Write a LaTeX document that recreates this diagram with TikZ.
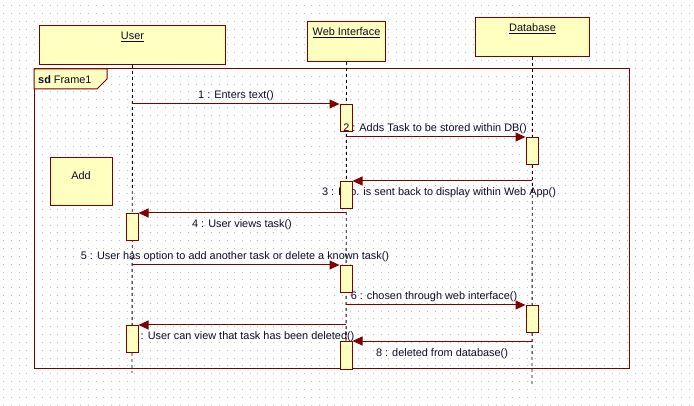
\documentclass[tikz,border=0pt]{standalone}
\usepackage{fontspec}
\setmainfont{Liberation Sans}
\usepackage{tikz}
\usetikzlibrary{arrows.meta}
\definecolor{umlred}{RGB}{128,0,0}
\definecolor{umlfill}{RGB}{255,255,192}
\definecolor{umltext}{RGB}{10,10,40}
\definecolor{griddot}{RGB}{190,190,190}
\begin{document}
\begin{tikzpicture}[
  x=1pt, y=-1pt, font=\fontsize{10.9}{13}\selectfont, text=umltext,
  headbox/.style={draw=umlred, fill=umlfill, line width=1pt, inner sep=0pt, anchor=north west},
  actbox/.style={draw=umlred, fill=umlfill, line width=1pt, inner sep=0pt, minimum width=12pt, minimum height=27pt, anchor=north},
  txt/.style={inner sep=0pt, anchor=base},
  lifeln/.style={black, dash pattern=on 3pt off 3pt, line width=0.9pt},
  msg/.style={umlred, line width=1pt, -{Triangle[length=10pt, width=9pt]}},
  frm/.style={draw=umlred, line width=1pt}
]
\useasboundingbox (0,0) rectangle (694,406);
% background dots
\foreach \i in {0,...,89}
  \foreach \j in {0,...,51}
    \fill[griddot] (3.3+\i*7.7, 5.3+\j*7.83) rectangle ++(1,1);

% lifeline heads
\node[headbox, minimum width=186pt, minimum height=39pt] (user) at (39,25) {};
\node[headbox, minimum width=78pt, minimum height=40pt] (web) at (307,21) {};
\node[headbox, minimum width=114pt, minimum height=39pt] (db) at (475,17) {};
\node[txt] (userT) at ([yshift=-15pt]user.north) {\underline{User}};
\node[txt] (webT) at ([yshift=-15pt]web.north) {\underline{Web Interface}};
\node[txt] (dbT) at ([yshift=-15pt]db.north) {\underline{Database}};

% frame
\draw[frm] (34,69) rectangle (629,368);
\draw[frm, fill=umlfill] (34,69) -- (107,69) -- (107,79) -- (97,89) -- (34,89) -- cycle;
\node[txt, anchor=base west] (tab) at (38,84) {\textbf{sd} Frame1};

% note box
\node[headbox, minimum width=62pt, minimum height=48pt] (add) at (50,157) {};
\node[txt] (addT) at (81,180) {Add};

% lifelines
\coordinate (userEnd) at (132,373);
\coordinate (webEnd) at (346,368);
\coordinate (dbEnd) at (532,387);
\draw[lifeln] (user.south) -- (userEnd);
\draw[lifeln] (web.south) -- (webEnd);
\draw[lifeln] (db.south) -- (dbEnd);

% message labels
\node[txt] (l1) at (236,99) {1 : Enters text()};
\node[txt] (l3) at (439,196) {3 : Info. is sent back to display within Web App()};
\node[txt] (l4) at (242,228) {4 : User views task()};
\node[txt] (l5) at (235,260) {5 : User has option to add another task or delete a known task()};
\node[txt] (l6) at (434,300) {6 : chosen through web interface()};
\node[txt] (l7) at (243,340) {7 : User can view that task has been deleted()};
\node[txt] (l8) at (442,356) {8 : deleted from database()};

% activations
\node[actbox] (wa1) at (346,104) {};
\node[actbox] (db1) at (532,137) {};
\node[actbox] (wa2) at (346,181) {};
\node[actbox] (ua1) at (132,213) {};
\node[actbox] (wa3) at (346,265) {};
\node[actbox] (db2) at (532,305) {};
\node[actbox] (ua2) at (132,325) {};
\node[actbox, minimum height=28pt] (wa4) at (346,341) {};
\node[txt] (l2) at (435,132) {2 : Adds Task to be stored within DB()};

% messages
\coordinate (u1) at (132,104);
\coordinate (w2) at (346,137);
\coordinate (d3) at (532,181);
\coordinate (w4) at (346,213);
\coordinate (u5) at (132,265);
\coordinate (w6) at (346,305);
\coordinate (w7) at (346,325);
\coordinate (d8) at (532,341);
\draw[msg] (u1) -- (wa1.north west);
\draw[msg] (w2) -- (db1.north west);
\draw[msg] (d3) -- (wa2.north east);
\draw[msg] (w4) -- (ua1.north east);
\draw[msg] (u5) -- (wa3.north west);
\draw[msg] (w6) -- (db2.north west);
\draw[msg] (w7) -- (ua2.north east);
\draw[msg] (d8) -- (wa4.north east);
\end{tikzpicture}
\end{document}
